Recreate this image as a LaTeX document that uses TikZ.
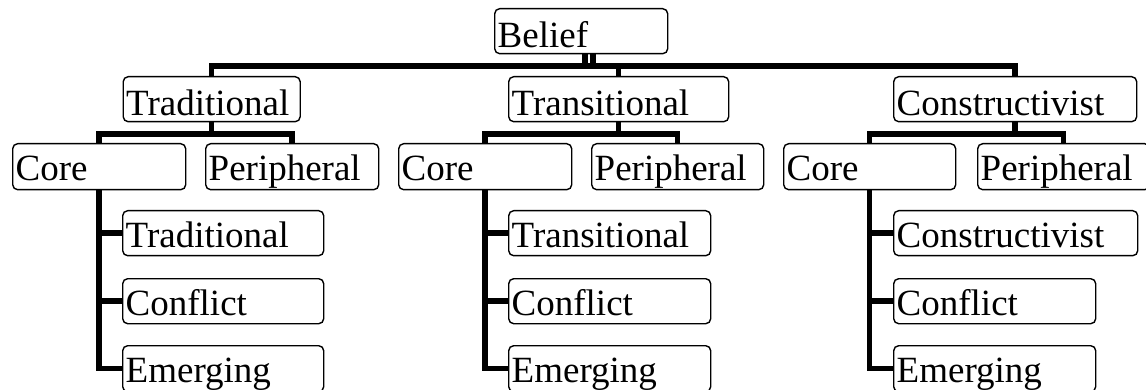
\documentclass[tikz,border=0pt]{standalone}
\usepackage{fontspec}
\setmainfont{Liberation Serif}
\usetikzlibrary{calc}
\begin{document}
\begin{tikzpicture}[x=1pt,y=-1pt,
  box/.style={draw, line width=1.4pt, rounded corners=5pt, anchor=north west,
    inner xsep=3pt, inner ysep=0pt, align=left,
    font=\fontsize{37}{40}\selectfont},
  topbox/.style={box, text height=39pt, text depth=6pt},
  midbox/.style={box, text height=37pt, text depth=9pt},
  subbox/.style={box, text height=37pt, text depth=8pt},
  conn/.style={line width=5.5pt}]
\fill[white] (0,0) rectangle (1146,390);
\useasboundingbox (0,0) rectangle (1146,390);

% level 0
\node[topbox, text width=167pt] (belief) at (494,8) {Belief};
% level 1
\node[topbox, text width=171pt] (trad1) at (122.5,76) {Traditional};
\node[topbox, text width=214pt] (trans1) at (508,76) {Transitional};
\node[topbox, text width=237pt] (cons1) at (893,76) {Constructivist};
% level 2
\node[midbox, text width=167pt] (core1) at (12,143) {Core};
\node[midbox, text width=167pt] (per1) at (205,143) {Peripheral};
\node[midbox, text width=167pt] (core2) at (398,143) {Core};
\node[midbox, text width=166pt] (per2) at (591,143) {Peripheral};
\node[midbox, text width=166pt] (core3) at (783,143) {Core};
\node[midbox, text width=166pt] (per3) at (977,143) {Peripheral};
% level 3
\node[subbox, text width=195pt] (sa1) at (122,210) {Traditional};
\node[subbox, text width=195pt] (sb1) at (122,278) {Conflict};
\node[subbox, text width=195pt, text depth=9pt] (sc1) at (122,345) {Emerging};
\node[subbox, text width=196pt] (sa2) at (508,210) {Transitional};
\node[subbox, text width=196pt] (sb2) at (508,278) {Conflict};
\node[subbox, text width=196pt, text depth=9pt] (sc2) at (508,345) {Emerging};
\node[subbox, text width=238pt] (sa3) at (893,210) {Constructivist};
\node[subbox, text width=196pt] (sb3) at (893,278) {Conflict};
\node[subbox, text width=196pt, text depth=9pt] (sc3) at (893,345) {Emerging};

% connectors level 0 -> 1
\coordinate (bar0) at ($(belief.south)+(0,11.5)$);
\draw[conn] (trad1.north) |- (bar0) -| (cons1.north);
\draw[conn] (trans1.north) -- (trans1.north |- bar0);
\draw[conn] ($(belief.south)+(4,0)$) -- ($(belief.south)+(4,11.5)$);
\draw[conn] ($(belief.south)+(12,0)$) -- ($(belief.south)+(12,11.5)$);

% connectors level 1 -> 2
\coordinate (bar1) at ($(trad1.south)+(0,11.5)$);
\coordinate (bar2) at ($(trans1.south)+(0,11.5)$);
\coordinate (bar3) at ($(cons1.south)+(0,11.5)$);
\draw[conn] (core1.north) |- (bar1) -| (per1.north);
\draw[conn] (trad1.south) -- (bar1);
\draw[conn] (core2.north) |- (bar2) -| (per2.north);
\draw[conn] (trans1.south) -- (bar2);
\draw[conn] (core3.north) |- (bar3) -| (per3.north);
\draw[conn] (cons1.south) -- (bar3);

% connectors core -> sub
\draw[conn] (core1.south) |- (sc1.west);
\draw[conn] (core1.south |- sa1.west) -- (sa1.west);
\draw[conn] (core1.south |- sb1.west) -- (sb1.west);
\draw[conn] (core2.south) |- (sc2.west);
\draw[conn] (core2.south |- sa2.west) -- (sa2.west);
\draw[conn] (core2.south |- sb2.west) -- (sb2.west);
\draw[conn] (core3.south) |- (sc3.west);
\draw[conn] (core3.south |- sa3.west) -- (sa3.west);
\draw[conn] (core3.south |- sb3.west) -- (sb3.west);
\end{tikzpicture}
\end{document}
